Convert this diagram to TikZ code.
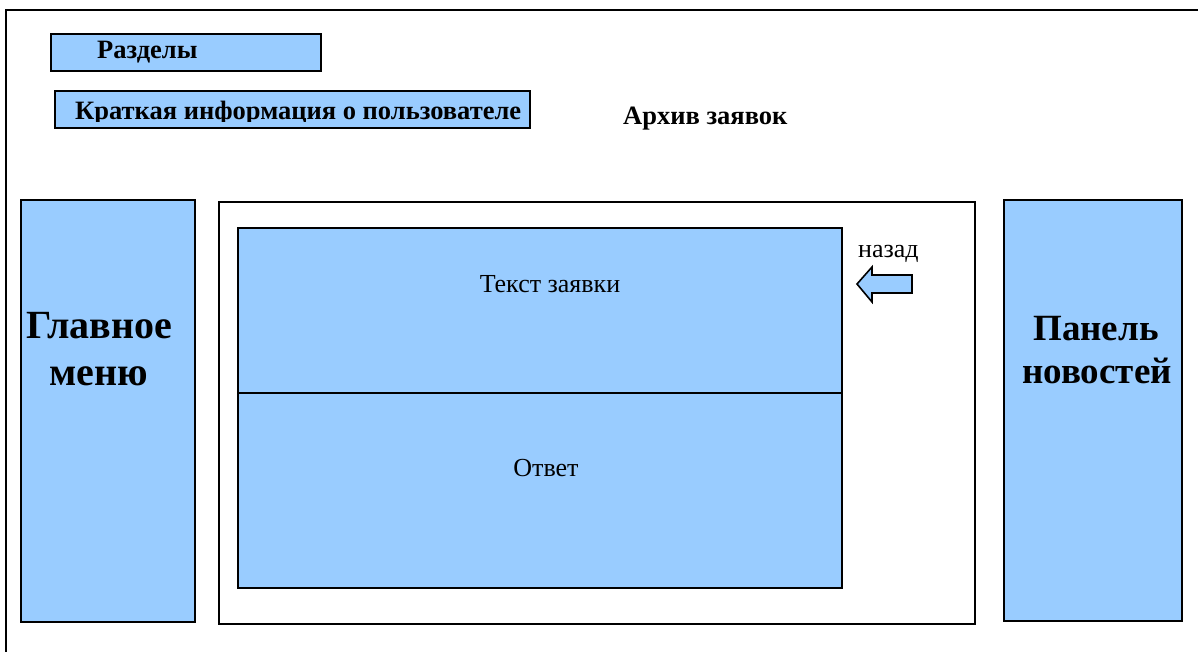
\documentclass[tikz,border=0pt]{standalone}
\usepackage{fontspec}
\setmainfont{Liberation Serif}
\definecolor{boxblue}{HTML}{99CCFF}
\tikzset{
  bluebox/.style={draw=black, fill=boxblue, line width=1.6pt},
  whitebox/.style={draw=black, fill=white, line width=1.6pt},
  smallbold/.style={font=\fontsize{26.5}{30}\selectfont\bfseries, inner sep=0pt},
  bigbold/.style={font=\fontsize{40}{45}\selectfont\bfseries, inner sep=0pt, align=center},
  bigboldb/.style={font=\fontsize{37}{43}\selectfont\bfseries, inner sep=0pt, align=center},
  plaintext/.style={font=\fontsize{26}{30}\selectfont, inner sep=0pt},
}
\begin{document}
\begin{tikzpicture}[x=1pt,y=-1pt]
\useasboundingbox (0,0) rectangle (1198,652);
% outer frame (right and bottom edges fall outside the picture)
\draw[line width=1.6pt] (6,660) -- (6,10) -- (1210,10);

% top boxes
\node[bluebox, anchor=north west, minimum width=270pt, minimum height=37pt, inner sep=0pt] (razd) at (50,33) {};
\node[smallbold, anchor=base west] (razdt) at (97,59) {Разделы};

\node[bluebox, anchor=north west, minimum width=475pt, minimum height=37pt, inner sep=0pt] (info) at (54,90) {};
\begin{scope}
\clip (54,90) rectangle (529,122);
\node[smallbold, anchor=base west] (infot) at (75,119.5) {Краткая информация о пользователе};
\end{scope}

\node[smallbold, anchor=base west] (arch) at (623,125) {Архив заявок};

% main menu
\node[bluebox, anchor=north west, minimum width=174pt, minimum height=422pt, inner sep=0pt] (menu) at (20,199) {};
\node[bigbold, anchor=base] (menut1) at (99,338) {Главное};
\node[bigbold, anchor=base] (menut2) at (99,385) {меню};

% news panel
\node[bluebox, anchor=north west, minimum width=178pt, minimum height=421pt, inner sep=0pt] (news) at (1003,199) {};
\node[bigboldb, anchor=base] (newst1) at (1096,340) {Панель};
\node[bigboldb, anchor=base] (newst2) at (1097,383) {новостей};

% central area
\node[whitebox, anchor=north west, minimum width=756pt, minimum height=422pt, inner sep=0pt] (center) at (218,201) {};
\node[bluebox, anchor=north west, minimum width=604pt, minimum height=360pt, inner sep=0pt] (req) at (237,227) {};
\coordinate (divl) at (237,393);
\coordinate (divr) at (841,393);
\draw[line width=1.6pt] (divl) -- (divr);
\node[plaintext] (reqt) at (550,284) {Текст заявки};
\node[plaintext] (ans) at (546,468) {Ответ};

% back
\node[plaintext, anchor=base west] (back) at (858,258) {назад};
\draw[bluebox, line width=1.6pt, line join=miter]
  (857,284) -- (872,267) -- (872,275) -- (912,275) -- (912,293) -- (872,293) -- (872,302) -- cycle;
\end{tikzpicture}
\end{document}
